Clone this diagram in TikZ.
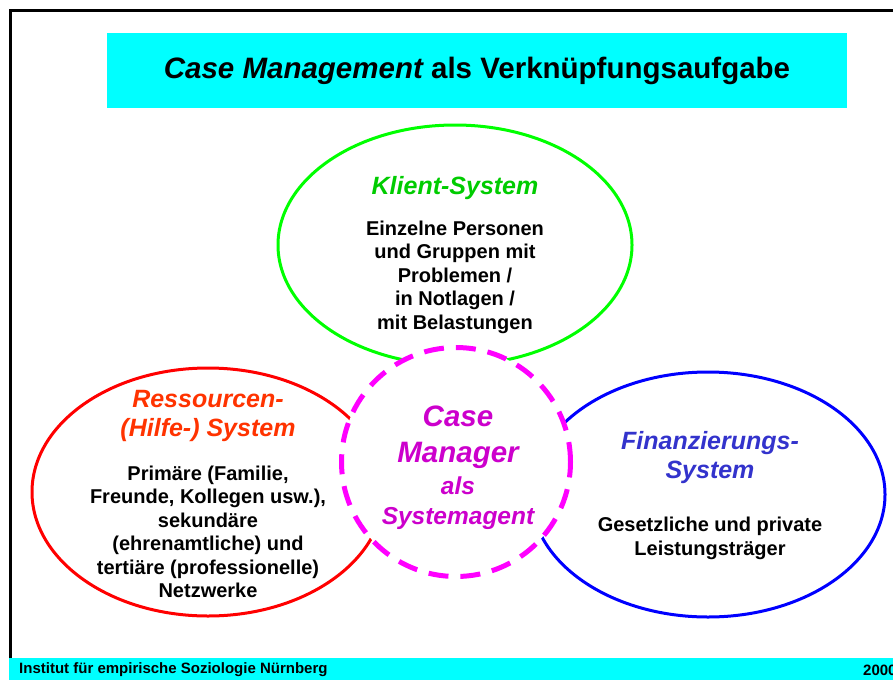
\documentclass[tikz,border=0pt]{standalone}
\usepackage{fontspec}
\setmainfont{Liberation Sans}
\usetikzlibrary{shapes.geometric}

\definecolor{cmcyan}{RGB}{0,255,255}
\definecolor{klientline}{RGB}{0,255,0}
\definecolor{klienttext}{RGB}{0,204,0}
\definecolor{ressline}{RGB}{255,0,0}
\definecolor{resstext}{RGB}{255,51,0}
\definecolor{finline}{RGB}{0,0,255}
\definecolor{fintext}{RGB}{51,51,204}
\definecolor{agentline}{RGB}{255,0,255}
\definecolor{agenttext}{RGB}{204,0,204}

\begin{document}
\begin{tikzpicture}[x=1pt,y=-1pt,
		sys/.style={draw,ellipse,line width=3pt,inner sep=0pt},
		head/.style={font=\fontsize{25}{29}\selectfont\bfseries\itshape,align=center,inner sep=0pt},
		body/.style={font=\fontsize{20}{23.5}\selectfont\bfseries,align=center,inner sep=0pt},
		foot/.style={font=\fontsize{15}{18}\selectfont\bfseries,inner sep=0pt}]
	\useasboundingbox (0,0) rectangle (893,680);
	\fill[cmcyan] (107,33) rectangle (847,108);
	\node[font=\fontsize{29.5}{34}\selectfont\bfseries,inner sep=0pt] (titel) at (477,71) {\itshape Case Management\upshape{} als Verknüpfungsaufgabe};
	\draw[line width=3pt] (10,658) -- (10,10) -- (893,10);
	\fill[cmcyan] (8.5,658) rectangle (893,680);
	\node[foot,anchor=west] (institut) at (19,670) {Institut für empirische Soziologie Nürnberg};
	\node[foot,anchor=west] (jahr) at (863,670) {2000};

	\node[sys,draw=klientline,minimum width=354,minimum height=240] (klient) at (455,245) {};
	\node[sys,draw=ressline,minimum width=352,minimum height=248] (ress) at (208,492) {};
	\node[sys,draw=finline,minimum width=354,minimum height=245] (fin) at (708,494.5) {};
	\node[circle,draw=agentline,fill=white,line width=5pt,dash pattern=on 20pt off 12pt,minimum size=229,inner sep=0pt] (agent) at (456,462) {};

	\node[head,text=klienttext] (klientkopf) at (455,188) {Klient-System};
	\node[body] (klienttxt) at (455,277) {Einzelne Personen\\und Gruppen mit\\Problemen /\\in Notlagen /\\mit Belastungen};
	\node[head,text=resstext] (resskopf) at (208,416) {Ressourcen-\\(Hilfe-) System};
	\node[body] (resstxt) at (208,532) {Primäre (Familie,\\Freunde, Kollegen usw.),\\sekundäre\\(ehrenamtliche) und\\tertiäre (professionelle)\\Netzwerke};
	\node[head,text=fintext] (finkopf) at (710,458) {Finanzierungs-\\System};
	\node[body] (fintxt) at (710,538.5) {Gesetzliche und private\\Leistungsträger};
	\node[font=\fontsize{29.5}{36}\selectfont\bfseries\itshape,text=agenttext,align=center,inner sep=0pt] (agenttxt) at (458,468) {Case\\Manager\\[-4pt]\fontsize{24.5}{30}\selectfont als\\[-6pt]\fontsize{24.5}{30}\selectfont Systemagent};
\end{tikzpicture}
\end{document}
